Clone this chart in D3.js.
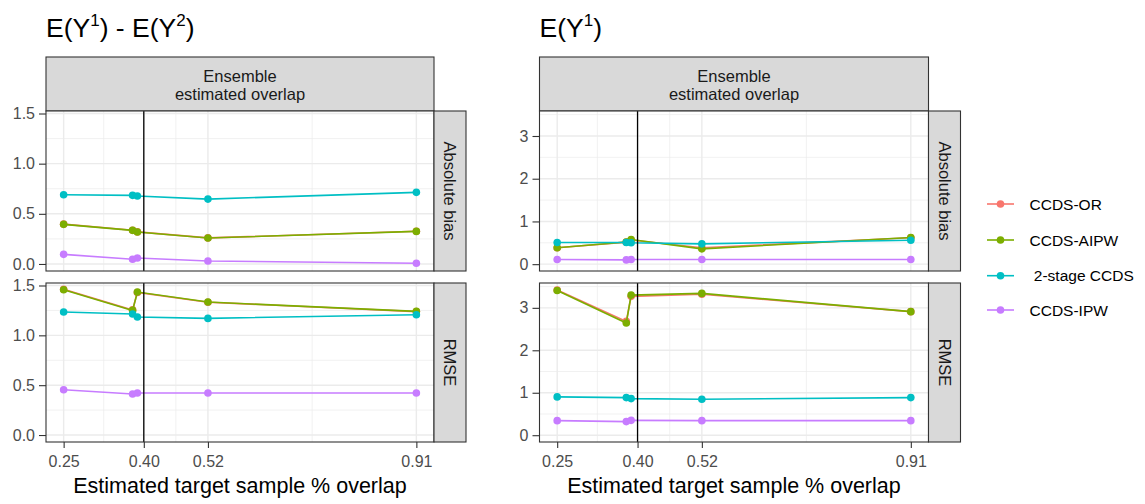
<!DOCTYPE html>
<html>
<head>
<meta charset="utf-8">
<script src="https://cdn.jsdelivr.net/npm/d3@7"></script>
<style>
  body { margin: 0; background: #fff; }
  svg { display: block; font-family: Arial, "Liberation Sans", sans-serif; }
</style>
</head>
<body>
<svg id="chart" width="1145" height="504"></svg>
<script>
// ---- data ----
const overlap = [0.25, 0.379, 0.388, 0.52, 0.91];
const xTicks = [0.25, 0.40, 0.52, 0.91];
const xTickLabels = ["0.25", "0.40", "0.52", "0.91"];
const cutoff = 0.40;
const methods = ["CCDS-OR", "CCDS-AIPW", " 2-stage CCDS", "CCDS-IPW"];
const metrics = ["Absolute bias", "RMSE"];
const stripLabel = ["Ensemble", "estimated overlap"];
const xTitle = "Estimated target sample % overlap";

// E(Y1) - E(Y2)
const diffBiasOR    = [0.397, 0.336, 0.320, 0.260, 0.326];
const diffBiasAIPW  = [0.395, 0.335, 0.319, 0.259, 0.325];
const diffBias2CCDS = [0.690, 0.684, 0.677, 0.647, 0.714];
const diffBiasIPW   = [0.096, 0.047, 0.060, 0.030, 0.007];
const diffRmseOR    = [1.462, 1.255, 1.430, 1.332, 1.238];
const diffRmseAIPW  = [1.457, 1.250, 1.434, 1.334, 1.240];
const diffRmse2CCDS = [1.234, 1.214, 1.184, 1.170, 1.207];
const diffRmseIPW   = [0.454, 0.411, 0.421, 0.421, 0.421];
const diffYTicks = [0, 0.5, 1.0, 1.5];

// E(Y1)
const y1BiasOR    = [0.385, 0.515, 0.565, 0.385, 0.620];
const y1BiasAIPW  = [0.383, 0.520, 0.578, 0.359, 0.625];
const y1Bias2CCDS = [0.508, 0.508, 0.500, 0.476, 0.560];
const y1BiasIPW   = [0.109, 0.100, 0.110, 0.109, 0.109];
const y1RmseOR    = [3.420, 2.680, 3.270, 3.320, 2.910];
const y1RmseAIPW  = [3.410, 2.643, 3.300, 3.340, 2.910];
const y1Rmse2CCDS = [0.902, 0.886, 0.862, 0.848, 0.886];
const y1RmseIPW   = [0.343, 0.320, 0.350, 0.343, 0.343];
const y1YTicks = [0, 1, 2, 3];

const colors = ["#F8766D", "#7CAE00", "#00BFC4", "#C77CFF"];

// ---- layout ----
const svg = d3.select("#chart");
const rows = [{ y0: 111, y1: 271 }, { y0: 283, y1: 442 }];
const stripTop = 57, stripW = 32;
const pointR = 3.8, lineW = 1.6;

const facets = [
  {
    x0: 46, x1: 434,
    title: [["E(Y", false], ["1", true], [") - E(Y", false], ["2", true], [")", false]],
    yDomain: [-0.07, 1.525],
    yTicks: diffYTicks,
    yFormat: d3.format(".1f"),
    series: [
      [diffBiasOR, diffBiasAIPW, diffBias2CCDS, diffBiasIPW],
      [diffRmseOR, diffRmseAIPW, diffRmse2CCDS, diffRmseIPW]
    ]
  },
  {
    x0: 539.5, x1: 928.5,
    title: [["E(Y", false], ["1", true], [")", false]],
    yDomain: [-0.16, 3.585],
    yTicks: y1YTicks,
    yFormat: d3.format("d"),
    series: [
      [y1BiasOR, y1BiasAIPW, y1Bias2CCDS, y1BiasIPW],
      [y1RmseOR, y1RmseAIPW, y1Rmse2CCDS, y1RmseIPW]
    ]
  }
];

// midpoints between major breaks, extended one step beyond each end, kept inside domain
function minorBreaks(major, domain) {
  const out = [];
  const ext = [major[0] - (major[1] - major[0]), ...major,
    major[major.length - 1] + (major[major.length - 1] - major[major.length - 2])];
  for (let i = 0; i < ext.length - 1; i++) {
    const m = (ext[i] + ext[i + 1]) / 2;
    if (m > domain[0] && m < domain[1]) out.push(m);
  }
  return out;
}

facets.forEach(f => {
  const x = d3.scaleLinear().domain([0.217, 0.943]).range([f.x0, f.x1]);

  // title with superscripts
  const t = svg.append("text").attr("x", f.x0).attr("y", 37)
    .attr("font-size", 26.5).attr("fill", "#000");
  f.title.forEach(([s, sup]) => {
    const ts = t.append("tspan").text(s);
    if (sup) ts.attr("font-size", 17).attr("dy", -11);
    else if (t.selectAll("tspan").size() > 1) ts.attr("dy", 11);
  });

  // top strip
  svg.append("rect").attr("x", f.x0).attr("y", stripTop)
    .attr("width", f.x1 - f.x0).attr("height", rows[0].y0 - stripTop)
    .attr("fill", "#D9D9D9").attr("stroke", "#333").attr("stroke-width", 1.1);
  stripLabel.forEach((s, i) => {
    svg.append("text").attr("x", (f.x0 + f.x1) / 2).attr("y", 81.5 + i * 18)
      .attr("text-anchor", "middle").attr("font-size", 16.5).attr("fill", "#1A1A1A").text(s);
  });

  rows.forEach((r, ri) => {
    const y = d3.scaleLinear().domain(f.yDomain).range([r.y1, r.y0]);
    const g = svg.append("g");

    g.append("rect").attr("x", f.x0).attr("y", r.y0)
      .attr("width", f.x1 - f.x0).attr("height", r.y1 - r.y0).attr("fill", "#fff");

    // grid
    const yMinor = minorBreaks(f.yTicks, f.yDomain);
    const xMinor = minorBreaks(xTicks, x.domain());
    g.selectAll(".ymin").data(yMinor).join("line")
      .attr("x1", f.x0).attr("x2", f.x1).attr("y1", d => y(d)).attr("y2", d => y(d))
      .attr("stroke", "#EBEBEB").attr("stroke-width", 0.7);
    g.selectAll(".xmin").data(xMinor).join("line")
      .attr("y1", r.y0).attr("y2", r.y1).attr("x1", d => x(d)).attr("x2", d => x(d))
      .attr("stroke", "#EBEBEB").attr("stroke-width", 0.7);
    g.selectAll(".ymaj").data(f.yTicks).join("line")
      .attr("x1", f.x0).attr("x2", f.x1).attr("y1", d => y(d)).attr("y2", d => y(d))
      .attr("stroke", "#EBEBEB").attr("stroke-width", 1.4);
    g.selectAll(".xmaj").data(xTicks).join("line")
      .attr("y1", r.y0).attr("y2", r.y1).attr("x1", d => x(d)).attr("x2", d => x(d))
      .attr("stroke", "#EBEBEB").attr("stroke-width", 1.4);

    // series
    const line = d3.line().x((d, i) => x(overlap[i])).y(d => y(d));
    f.series[ri].forEach((vals, si) => {
      g.append("path").datum(vals).attr("d", line)
        .attr("fill", "none").attr("stroke", colors[si]).attr("stroke-width", lineW);
      g.selectAll(null).data(vals).join("circle")
        .attr("cx", (d, i) => x(overlap[i])).attr("cy", d => y(d)).attr("r", pointR)
        .attr("fill", colors[si]);
    });

    // reference line
    g.append("line").attr("x1", x(cutoff)).attr("x2", x(cutoff))
      .attr("y1", r.y0).attr("y2", r.y1).attr("stroke", "#000").attr("stroke-width", 1.3);

    // border
    g.append("rect").attr("x", f.x0).attr("y", r.y0)
      .attr("width", f.x1 - f.x0).attr("height", r.y1 - r.y0)
      .attr("fill", "none").attr("stroke", "#333").attr("stroke-width", 1.1);

    // y axis
    const ya = svg.append("g").attr("transform", `translate(${f.x0},0)`)
      .call(d3.axisLeft(y).tickValues(f.yTicks).tickFormat(f.yFormat).tickSize(7).tickPadding(4));
    ya.select(".domain").remove();
    ya.selectAll(".tick line").attr("stroke", "#333").attr("stroke-width", 1.1);
    ya.selectAll(".tick text").attr("fill", "#4D4D4D").attr("font-size", 16)
      .attr("font-family", "Arial, 'Liberation Sans', sans-serif");

    // right strip
    svg.append("rect").attr("x", f.x1).attr("y", r.y0)
      .attr("width", stripW).attr("height", r.y1 - r.y0)
      .attr("fill", "#D9D9D9").attr("stroke", "#333").attr("stroke-width", 1.1);
    const cx = f.x1 + stripW / 2, cy = (r.y0 + r.y1) / 2;
    svg.append("text").attr("transform", `translate(${cx},${cy}) rotate(90)`)
      .attr("text-anchor", "middle").attr("dy", "0.35em")
      .attr("font-size", 16.5).attr("fill", "#1A1A1A").text(metrics[ri]);

    // x axis on bottom row
    if (ri === 1) {
      const xa = svg.append("g").attr("transform", `translate(0,${r.y1})`)
        .call(d3.axisBottom(x).tickValues(xTicks)
          .tickFormat((d, i) => xTickLabels[i]).tickSize(6).tickPadding(8));
      xa.select(".domain").remove();
      xa.selectAll(".tick line").attr("stroke", "#333").attr("stroke-width", 1.1);
      xa.selectAll(".tick text").attr("fill", "#4D4D4D").attr("font-size", 16)
        .attr("font-family", "Arial, 'Liberation Sans', sans-serif");

      svg.append("text").attr("x", (f.x0 + f.x1) / 2).attr("y", 492.5)
        .attr("text-anchor", "middle").attr("font-size", 21.5).attr("fill", "#000")
        .text(xTitle);
    }
  });
});

// legend
const legendY = [204, 240, 275.7, 310];
const lg = svg.append("g");
methods.forEach((m, i) => {
  lg.append("line").attr("x1", 987).attr("x2", 1014)
    .attr("y1", legendY[i]).attr("y2", legendY[i])
    .attr("stroke", colors[i]).attr("stroke-width", lineW);
  lg.append("circle").attr("cx", 1000.5).attr("cy", legendY[i]).attr("r", pointR)
    .attr("fill", colors[i]);
  lg.append("text").attr("x", 1029.5).attr("y", legendY[i]).attr("dy", "0.36em")
    .attr("font-size", 15.5).attr("fill", "#000").attr("xml:space", "preserve")
    .style("white-space", "pre").text(m);
});
</script>
</body>
</html>
